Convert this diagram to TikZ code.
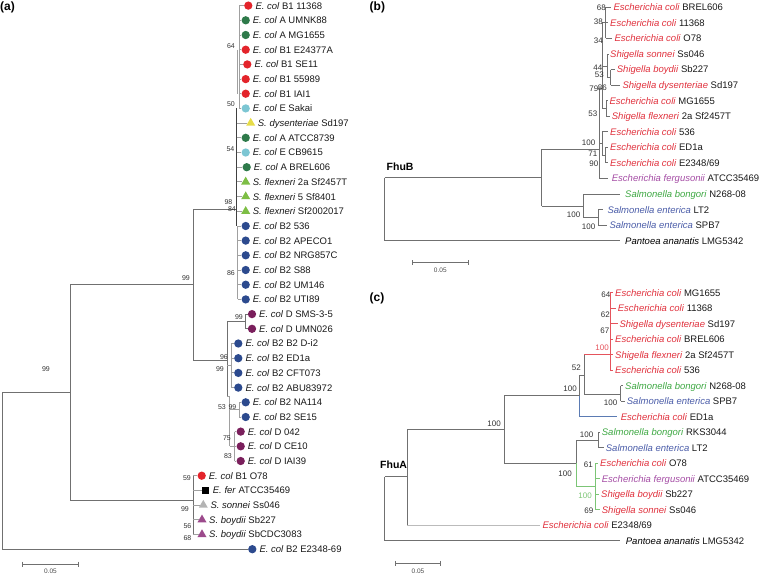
\documentclass[tikz,border=0pt]{standalone}
\usepackage{fontspec}
\setmainfont{Liberation Sans}
\usetikzlibrary{shapes.geometric}
\definecolor{tg}{HTML}{707070}
\definecolor{tl}{HTML}{A0A0A0}
\definecolor{tll}{HTML}{BBBBBB}
\definecolor{td}{HTML}{404040}
\definecolor{cred}{HTML}{E3242B}
\definecolor{cgreen}{HTML}{2E7A4A}
\definecolor{ccyan}{HTML}{7CC6D3}
\definecolor{cyel}{HTML}{E6DC48}
\definecolor{clgreen}{HTML}{7DBE45}
\definecolor{cblue}{HTML}{2C4A8E}
\definecolor{cpurp}{HTML}{7A1F5C}
\definecolor{cgrayt}{HTML}{B4B4B4}
\definecolor{cmauve}{HTML}{9C4A8C}
\definecolor{tred}{HTML}{E0303C}
\definecolor{tpurp}{HTML}{A44CA4}
\definecolor{tgreen}{HTML}{3EA843}
\definecolor{tblue}{HTML}{4A5CA8}
\definecolor{lred}{HTML}{E5535C}
\definecolor{lgreen}{HTML}{7CC576}
\definecolor{lblue}{HTML}{5B7BB3}
\newcommand\fL{\fontsize{9.5}{11}\selectfont}
\newcommand\fB{\fontsize{7}{8}\selectfont}
\newcommand\fC{\fontsize{8}{9}\selectfont}
\newcommand\LA[6]{\node[#4] (#1m) at (#2,#3) {};\node[lab] (#1) at ({#2+7},{#3+3.4}) {\textit{#5} #6};}
\newcommand\LB[6]{\node[lab] (#1) at (#2,{#3+3.4}) {\textcolor{#4}{\textit{#5}} #6};}
\tikzset{
 lab/.style={anchor=base west, inner sep=0pt, font=\fL, text=black!90},
 bsa/.style={anchor=base east, inner sep=0pt, font=\fB, text=black!80},
 bsb/.style={anchor=base east, inner sep=0pt, font=\fC, text=black!80},
 br/.style={draw=tg, line width=0.9pt},
 brl/.style={draw=tl, line width=0.9pt},
 brd/.style={draw=td, line width=0.9pt},
 cdot/.style={circle, fill=#1, inner sep=0pt, minimum size=8.3pt},
 tri/.style={regular polygon, regular polygon sides=3, fill=#1, inner sep=0pt, minimum size=10.5pt},
 sqm/.style={rectangle, fill=black, inner sep=0pt, minimum size=7.4pt},
 panel/.style={font=\bfseries\fontsize{12}{14}\selectfont, anchor=west, inner sep=0pt},
 gene/.style={font=\bfseries\fontsize{10.5}{12}\selectfont, anchor=west, inner sep=0pt},
 scl/.style={font=\fontsize{6.5}{8}\selectfont, text=black!70, inner sep=0pt},
}
\begin{document}
\begin{tikzpicture}[x=1pt,y=-1pt]
\useasboundingbox (0,0) rectangle (760,574);
% ---------------- panel labels
\node[panel] (pa) at (0,7.5) {(a)};
\node[panel] (pb) at (369.5,7.5) {(b)};
\node[panel] (pc) at (369.5,298.3) {(c)};
\node[gene] (gB) at (386.5,166.7) {FhuB};
\node[gene] (gA) at (380,465) {FhuA};
% ---------------- panel (a) leaves
\LA{a0}{248.3}{5.6}{cdot=cred}{E. col}{B1 11368}
\LA{a1}{245.7}{20.3}{cdot=cgreen}{E. col}{A UMNK88}
\LA{a2}{245.7}{35.0}{cdot=cgreen}{E. col}{A MG1655}
\LA{a3}{245.7}{49.7}{cdot=cred}{E. col}{B1 E24377A}
\LA{a4}{247.3}{64.4}{cdot=cred}{E. col}{B1 SE11}
\LA{a5}{245.7}{79.1}{cdot=cred}{E. col}{B1 55989}
\LA{a6}{245.7}{93.7}{cdot=cred}{E. col}{B1 IAI1}
\LA{a7}{245.7}{108.4}{cdot=ccyan}{E. col}{E Sakai}
\LA{a8}{250.7}{123.1}{tri=cyel}{S. dysenteriae}{Sd197}
\LA{a9}{245.7}{137.8}{cdot=cgreen}{E. col}{A ATCC8739}
\LA{a10}{245.7}{152.5}{cdot=ccyan}{E. col}{E CB9615}
\LA{a11}{246.7}{167.2}{cdot=cgreen}{E. col}{A BREL606}
\LA{a12}{245.7}{181.9}{tri=clgreen}{S. flexneri}{2a Sf2457T}
\LA{a13}{245.7}{196.6}{tri=clgreen}{S. flexneri}{5 Sf8401}
\LA{a14}{245.7}{211.3}{tri=clgreen}{S. flexneri}{Sf2002017}
\LA{a15}{245.7}{226.0}{cdot=cblue}{E. col}{B2 536}
\LA{a16}{245.7}{240.6}{cdot=cblue}{E. col}{B2 APECO1}
\LA{a17}{245.7}{255.3}{cdot=cblue}{E. col}{B2 NRG857C}
\LA{a18}{245.7}{270.0}{cdot=cblue}{E. col}{B2 S88}
\LA{a19}{245.7}{284.7}{cdot=cblue}{E. col}{B2 UM146}
\LA{a20}{245.7}{299.4}{cdot=cblue}{E. col}{B2 UTI89}
\LA{a21}{252}{314.1}{cdot=cpurp}{E. col}{D SMS-3-5}
\LA{a22}{252}{328.8}{cdot=cpurp}{E. col}{D UMN026}
\LA{a23}{238.3}{343.5}{cdot=cblue}{E. col}{B2 B2 D-i2}
\LA{a24}{238.3}{358.2}{cdot=cblue}{E. col}{B2 ED1a}
\LA{a25}{238.3}{372.9}{cdot=cblue}{E. col}{B2 CFT073}
\LA{a26}{238.3}{387.6}{cdot=cblue}{E. col}{B2 ABU83972}
\LA{a27}{245.7}{402.3}{cdot=cblue}{E. col}{B2 NA114}
\LA{a28}{245.7}{417.0}{cdot=cblue}{E. col}{B2 SE15}
\LA{a29}{240.7}{431.6}{cdot=cpurp}{E. col}{D 042}
\LA{a30}{240.7}{446.3}{cdot=cpurp}{E. col}{D CE10}
\LA{a31}{240.7}{461.0}{cdot=cpurp}{E. col}{D IAI39}
\LA{a32}{201.7}{475.7}{cdot=cred}{E. col}{B1 O78}
\LA{a33}{205.7}{490.4}{sqm}{E. fer}{ATCC35469}
\LA{a34}{203.3}{505.1}{tri=cgrayt}{S. sonnei}{Ss046}
\LA{a35}{202}{519.8}{tri=cmauve}{S. boydii}{Sb227}
\LA{a36}{202}{534.5}{tri=cmauve}{S. boydii}{SbCDC3083}
\LA{a37}{252.3}{549.2}{cdot=cblue}{E. col}{B2 E2348-69}
% ---------------- panel (a) branches
\coordinate (aR) at (2,392.7);
\coordinate (aX1) at (70,392.7);
\coordinate (aX2) at (193,284);
\coordinate (aX3) at (193,500);
\draw[br] (2,549.2) -- (aR) -- (aX1);
\draw[br] (2,549.2) -- (a37m.west);
\draw[br] (70,284) -- (70,500);
\draw[br] (70,284) -- (aX2);
\draw[br] (70,500) -- (aX3);
\draw[br] (193,209) -- (193,360);
\draw[br] (193,209) -- (236.5,209);
\draw[br] (193,360) -- (227,360);
% top group
\draw[brl] (239,5.6) -- (239,108.4);
\draw[brl] (237.5,49.7) -- (237.5,93.7);
\draw[brd] (236.5,108.4) -- (236.5,226);
\draw[brl] (237.5,226) -- (237.5,299.4);
\foreach \n/\y in {a0/5.6,a1/20.3,a2/35.0,a3/49.7,a4/64.4,a5/79.1,a6/93.7,a7/108.4}
  \draw[brl] (239,\y) -- (\n m.west);
\foreach \n/\y in {a8/123.1,a9/137.8,a10/152.5,a11/167.2,a12/181.9,a13/196.6,a14/211.3}
  \draw[brl] (236.5,\y) -- (\n m.west);
\foreach \n/\y in {a15/226.0,a16/240.6,a17/255.3,a18/270.0,a19/284.7,a20/299.4}
  \draw[brl] (237.5,\y) -- (\n m.west);
% lower group
\draw[br] (227,321.5) -- (227,396);
\draw[br] (227,321.5) -- (245.7,321.5);
\draw[br] (245.7,314.1) -- (245.7,328.8);
\draw[br] (245.7,314.1) -- (a21m.west);
\draw[br] (245.7,328.8) -- (a22m.west);
\draw[brl] (227,365) -- (231,365);
\draw[brl] (231,343.5) -- (231,387.6);
\foreach \n/\y in {a23/343.5,a24/358.2,a25/372.9,a26/387.6}
  \draw[brl] (231,\y) -- (\n m.west);
\draw[brl] (227,396) -- (229.5,396) -- (229.5,446.3);
\draw[brl] (229.5,409.7) -- (239,409.7);
\draw[brl] (239,402.3) -- (239,417);
\foreach \n/\y in {a27/402.3,a28/417.0}
  \draw[brl] (239,\y) -- (\n m.west);
\draw[brl] (229.5,446.3) -- (234.5,446.3);
\draw[brl] (234.5,431.6) -- (234.5,461);
\foreach \n/\y in {a29/431.6,a30/446.3,a31/461.0}
  \draw[brl] (234.5,\y) -- (\n m.west);
% O78 group
\draw[br] (193,475.7) -- (193,534.5);
\foreach \n/\y in {a32/475.7,a33/490.4,a34/505.1,a35/519.8,a36/534.5}
  \draw[brl] (193,\y) -- (\n m.west);
% bootstrap (a)
\node[bsa] at (235,48) {64};
\node[bsa] at (235,106) {50};
\node[bsa] at (234.5,151) {54};
\node[bsa] at (232.5,204) {98};
\node[bsa] at (236,211) {84};
\node[bsa] at (235,275) {86};
\node[bsa] at (190,280.5) {99};
\node[bsa] at (50,371) {99};
\node[bsa] at (243,319) {99};
\node[bsa] at (228,359.5) {96};
\node[bsa] at (224,371) {99};
\node[bsa] at (226,409) {53};
\node[bsa] at (236.5,409) {99};
\node[bsa] at (231,440) {75};
\node[bsa] at (232,458) {83};
\node[bsa] at (191,480) {59};
\node[bsa] at (189,511) {99};
\node[bsa] at (191.5,528) {56};
\node[bsa] at (191.5,540) {68};
% scale (a)
\coordinate (sa1) at (22.7,564);
\coordinate (sa2) at (78.3,564);
\draw[br] (sa1) -- (sa2);
\draw[br] (22.7,561.5) -- (22.7,566.5);
\draw[br] (78.3,561.5) -- (78.3,566.5);
\node[scl] (sal) at (50.5,571) {0.05};
% ---------------- panel (b) leaves
\LB{b0}{613.3}{7.3}{tred}{Escherichia coli}{BREL606}
\LB{b1}{610}{22.9}{tred}{Escherichia coli}{11368}
\LB{b2}{614.3}{38.4}{tred}{Escherichia coli}{O78}
\LB{b3}{610}{54.0}{tred}{Shigella sonnei}{Ss046}
\LB{b4}{616.7}{69.5}{tred}{Shigella boydii}{Sb227}
\LB{b5}{622.3}{85.1}{tred}{Shigella dysenteriae}{Sd197}
\LB{b6}{609.3}{100.7}{tred}{Escherichia coli}{MG1655}
\LB{b7}{611.7}{116.2}{tred}{Shigella flexneri}{2a Sf2457T}
\LB{b8}{610}{131.8}{tred}{Escherichia coli}{536}
\LB{b9}{610}{147.3}{tred}{Escherichia coli}{ED1a}
\LB{b10}{610}{162.9}{tred}{Escherichia coli}{E2348/69}
\LB{b11}{611.7}{178.5}{tpurp}{Escherichia fergusonii}{ATCC35469}
\LB{b12}{625}{194.0}{tgreen}{Salmonella bongori}{N268-08}
\LB{b13}{607.3}{209.6}{tblue}{Salmonella enterica}{LT2}
\LB{b14}{609.3}{225.1}{tblue}{Salmonella enterica}{SPB7}
\LB{b15}{625}{240.7}{black}{Pantoea ananatis}{LMG5342}
% panel (b) branches
\draw[br] (384.7,177.6) -- (384.7,240.7);
\draw[br] (384.7,177.6) -- (541.7,177.6);
\draw[br] (384.7,240.7) -- (620,240.7);
\draw[br] (541.7,149.3) -- (541.7,206);
\draw[br] (541.7,149.3) -- (599,149.3);
\draw[br] (541.7,206) -- (583.3,206);
\draw[br] (583.3,194) -- (583.3,217.4);
\draw[br] (583.3,194) -- (620,194);
\draw[br] (583.3,217.4) -- (598.3,217.4);
\draw[br] (598.3,209.6) -- (598.3,225.1);
\draw[br] (598.3,209.6) -- (603.3,209.6);
\draw[br] (598.3,225.1) -- (606.7,225.1);
\draw[br] (599,88) -- (599,178.5) -- (608.3,178.5);
\draw[br] (599,88) -- (602,88);
\draw[br] (599,143.4) -- (602,143.4);
\draw[br] (602,22.9) -- (602,108.5);
\draw[br] (602,22.9) -- (605.5,22.9);
\draw[br] (605.5,7.3) -- (605.5,38.4);
\draw[br] (605.5,7.3) -- (610.5,7.3);
\draw[br] (605.5,22.9) -- (608,22.9);
\draw[br] (605.5,38.4) -- (611.5,38.4);
\draw[br] (602,66) -- (607,66);
\draw[br] (607,54) -- (607,77.3);
\draw[br] (607,54) -- (608.5,54);
\draw[br] (607,77.3) -- (610.5,77.3);
\draw[br] (610.5,69.5) -- (610.5,85.1);
\draw[br] (610.5,69.5) -- (614.5,69.5);
\draw[br] (610.5,85.1) -- (620,85.1);
\draw[br] (602,108.5) -- (606,108.5);
\draw[br] (606,100.7) -- (606,116.2);
\draw[br] (606,100.7) -- (607.5,100.7);
\draw[br] (606,116.2) -- (610,116.2);
\draw[br] (602,131.8) -- (602,155.1);
\draw[br] (602,131.8) -- (608,131.8);
\draw[br] (602,155.1) -- (605.5,155.1);
\draw[br] (605.5,147.3) -- (605.5,162.9);
\draw[br] (605.5,147.3) -- (608,147.3);
\draw[br] (605.5,162.9) -- (608,162.9);
% bootstrap (b)
\node[bsb] at (606,10.5) {68};
\node[bsb] at (603,24.5) {38};
\node[bsb] at (603,43) {34};
\node[bsb] at (602.5,70) {44};
\node[bsb] at (604,77.5) {53};
\node[bsb] at (598.5,91.5) {79};
\node[bsb] at (607,90.5) {86};
\node[bsb] at (597.5,116.5) {53};
\node[bsb] at (595.5,145) {100};
\node[bsb] at (597.5,156.5) {71};
\node[bsb] at (598.5,166.5) {90};
\node[bsb] at (580.5,217) {100};
\node[bsb] at (595.5,229.5) {100};
% scale (b)
\draw[br] (412.3,262.7) -- (468.3,262.7);
\draw[br] (412.3,260.2) -- (412.3,265.2);
\draw[br] (468.3,260.2) -- (468.3,265.2);
\node[scl] (sbl) at (440.3,270.5) {0.05};
% ---------------- panel (c) leaves
\LB{c0}{615}{292.7}{tred}{Escherichia coli}{MG1655}
\LB{c1}{617.7}{308.2}{tred}{Escherichia coli}{11368}
\LB{c2}{619.3}{323.7}{tred}{Shigella dysenteriae}{Sd197}
\LB{c3}{615}{339.2}{tred}{Escherichia coli}{BREL606}
\LB{c4}{615}{354.7}{tred}{Shigella flexneri}{2a Sf2457T}
\LB{c5}{615}{370.2}{tred}{Escherichia coli}{536}
\LB{c6}{625}{385.7}{tgreen}{Salmonella bongori}{N268-08}
\LB{c7}{626.7}{401.2}{tblue}{Salmonella enterica}{SPB7}
\LB{c8}{620.7}{416.7}{tred}{Escherichia coli}{ED1a}
\LB{c9}{601.7}{432.2}{tgreen}{Salmonella bongori}{RKS3044}
\LB{c10}{605.7}{447.7}{tblue}{Salmonella enterica}{LT2}
\LB{c11}{600}{463.2}{tred}{Escherichia coli}{O78}
\LB{c12}{601.7}{478.7}{tpurp}{Escherichia fergusonii}{ATCC35469}
\LB{c13}{601}{494.2}{tred}{Shigella boydii}{Sb227}
\LB{c14}{601.7}{509.7}{tred}{Shigella sonnei}{Ss046}
\LB{c15}{542.3}{525.2}{tred}{Escherichia coli}{E2348/69}
\LB{c16}{625.7}{540.7}{black}{Pantoea ananatis}{LMG5342}
% panel (c) branches
\draw[br] (384.7,476.9) -- (384.7,540.7);
\draw[br] (384.7,476.9) -- (407.3,476.9);
\draw[br] (384.7,540.7) -- (620,540.7);
\draw[br] (407.3,429.3) -- (407.3,525.2);
\draw[br] (407.3,429.3) -- (504,429.3);
\draw[draw=tll, line width=0.9pt] (407.3,525.2) -- (540,525.2);
\draw[br] (504,395.5) -- (504,463.2);
\draw[br] (504,395.5) -- (579.3,395.5);
\draw[br] (504,463.2) -- (576.7,463.2);
\draw[br] (579.3,375) -- (579.3,395.5);
\draw[draw=lblue, line width=0.9pt] (579.3,395.5) -- (579.3,416.7) -- (617.3,416.7);
\draw[br] (579.3,375) -- (584,375);
\draw[br] (584,354.7) -- (584,394);
\draw[br] (584,394) -- (620.7,394);
\draw[draw=lred, line width=0.9pt] (584,354.7) -- (610,354.7);
\draw[draw=lred, line width=0.9pt] (610,292.7) -- (610,370.2);
\foreach \y/\e in {292.7/612.5,308.2/616,323.7/617.5,339.2/612.5,354.7/612.5,370.2/613}
  \draw[draw=lred, line width=0.9pt] (610,\y) -- (\e,\y);
\draw[br] (620.7,385.7) -- (620.7,401.2);
\draw[br] (620.7,385.7) -- (623,385.7);
\draw[br] (620.7,401.2) -- (624.5,401.2);
\draw[br] (576.7,440) -- (576.7,463.2);
\draw[draw=lgreen, line width=0.9pt] (576.7,463.2) -- (576.7,486.5) -- (595,486.5);
\draw[br] (576.7,440) -- (598.3,440);
\draw[br] (598.3,432.2) -- (598.3,447.7);
\draw[br] (598.3,432.2) -- (600,432.2);
\draw[br] (598.3,447.7) -- (603.5,447.7);
\draw[draw=lgreen, line width=0.9pt] (595,463.2) -- (595,509.7);
\foreach \y/\e in {463.2/598,478.7/599.5,494.2/599,509.7/599.5}
  \draw[draw=lgreen, line width=0.9pt] (595,\y) -- (\e,\y);
% bootstrap (c)
\node[bsb] at (610.5,297.5) {64};
\node[bsb] at (610,317.5) {62};
\node[bsb] at (609.5,333.5) {67};
\node[bsb, text=lred] at (609,350.5) {100};
\node[bsb] at (581,370.5) {52};
\node[bsb] at (577,391.5) {100};
\node[bsb] at (617.5,405) {100};
\node[bsb] at (501,426) {100};
\node[bsb] at (593.5,437) {100};
\node[bsb] at (572,476) {100};
\node[bsb] at (593,467.5) {61};
\node[bsb, text=lgreen] at (592,498.5) {100};
\node[bsb] at (593.5,513.5) {69};
% scale (c)
\draw[br] (395.7,563.3) -- (440,563.3);
\draw[br] (395.7,560.8) -- (395.7,565.8);
\draw[br] (440,560.8) -- (440,565.8);
\node[scl] (scl) at (418,571) {0.05};
\end{tikzpicture}
\end{document}
